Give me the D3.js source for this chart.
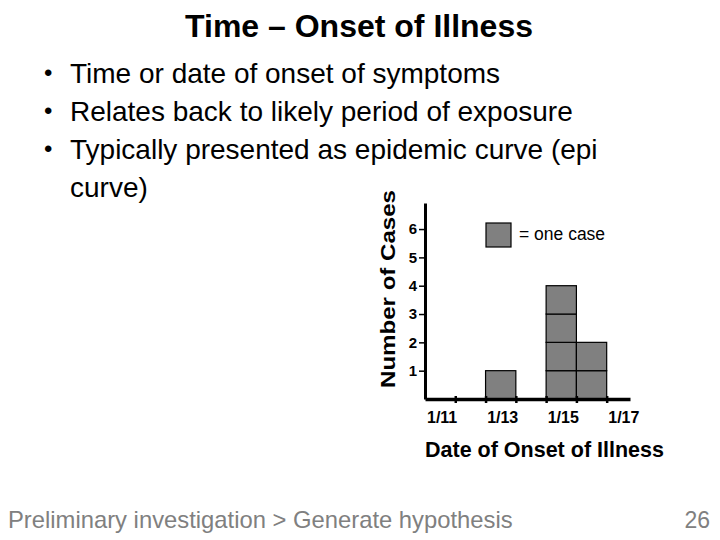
<!DOCTYPE html>
<html lang="en">
<head>
  <meta charset="utf-8">
  <title>Time – Onset of Illness</title>
  <script src="https://d3js.org/d3.v7.min.js"></script>
  <style>
    body { margin: 0; background: #fff; }
    svg { display: block; font-family: "Liberation Sans", Arial, sans-serif; }
  </style>
</head>
<body>
<div id="chart"></div>
<script>
  // epi curve data: day of January and number of cases
  const days = [11, 12, 13, 14, 15, 16, 17]
  const cases = [0, 0, 1, 0, 4, 2, 0]
  const xLabels = [{ day: 11, text: "1/11" }, { day: 13, text: "1/13" }, { day: 15, text: "1/15" }, { day: 17, text: "1/17" }]
  const yTicks = [1, 2, 3, 4, 5, 6]
  const bullets = ["Time or date of onset of symptoms", "Relates back to likely period of exposure", "Typically presented as epidemic curve (epi", "curve)"]

  const W = 720, H = 540
  const svg = d3.select("#chart").append("svg")
    .attr("width", W)
    .attr("height", H)

  // slide title
  svg.append("text")
    .attr("x", 359).attr("y", 37)
    .attr("text-anchor", "middle")
    .style("font-size", "32px").style("font-weight", "bold")
    .text("Time – Onset of Illness")

  // bullet list
  bullets.forEach(function (b, i) {
    const y = 83 + i * 38
    if (i < 3) {
      svg.append("text").attr("x", 44).attr("y", y - 2)
        .style("font-size", "24px").text("•")
    }
    svg.append("text").attr("x", 70).attr("y", y)
      .style("font-size", "28px")
      .text(b)
  })

  // scales
  const x = d3.scaleLinear().domain([11, 17.77]).range([425, 630])
  const y = d3.scaleLinear().domain([0, 6.92]).range([399, 203])

  // one box per case
  const boxes = []
  days.forEach(function (d, i) {
    for (let k = 0; k < cases[i]; k++) boxes.push({ day: d, k: k })
  })
  svg.append("g")
    .selectAll("rect")
    .data(boxes)
    .enter()
    .append("rect")
      .attr("x", d => x(d.day))
      .attr("y", d => y(d.k + 1))
      .attr("width", d => x(d.day + 1) - x(d.day))
      .attr("height", d => y(d.k) - y(d.k + 1))
      .style("fill", "#808080")
      .style("stroke", "#000")
      .style("stroke-width", 1.2)

  // y axis
  const yAxis = svg.append("g")
    .attr("transform", "translate(425,0)")
    .call(d3.axisLeft(y).tickValues(yTicks).tickFormat(d3.format("d")).tickSize(6).tickSizeOuter(0).tickPadding(2))
    .attr("font-size", 15)
    .attr("font-weight", "bold")
    .attr("font-family", "Liberation Sans, Arial, sans-serif")
  yAxis.select(".domain").attr("stroke-width", 3)
  yAxis.selectAll(".tick line").attr("stroke-width", 1.5)
  yAxis.selectAll(".tick text").attr("fill", "#000")

  // x axis
  const xAxis = svg.append("g")
    .attr("transform", "translate(0,399)")
    .call(d3.axisBottom(x).tickValues(days.slice(1)).tickSize(4).tickSizeOuter(0).tickFormat(""))
  xAxis.select(".domain").attr("stroke-width", 3.5)
  xAxis.selectAll(".tick line").attr("y1", -3).attr("y2", 4).attr("stroke-width", 2.5)

  svg.append("g")
    .selectAll("text")
    .data(xLabels)
    .enter()
    .append("text")
      .attr("x", d => x(d.day + 0.5) + 2)
      .attr("y", 423)
      .attr("text-anchor", "middle")
      .style("font-size", "16px").style("font-weight", "bold")
      .text(d => d.text)

  // axis titles
  svg.append("text")
    .attr("x", 425).attr("y", 457)
    .style("font-size", "21.5px").style("font-weight", "bold")
    .text("Date of Onset of Illness")

  svg.append("text")
    .attr("transform", "translate(395,289) rotate(-90)")
    .attr("text-anchor", "middle")
    .attr("textLength", 198).attr("lengthAdjust", "spacingAndGlyphs")
    .style("font-size", "20px").style("font-weight", "bold")
    .text("Number of Cases")

  // legend
  svg.append("rect")
    .attr("x", 486).attr("y", 223).attr("width", 25).attr("height", 24)
    .style("fill", "#808080").style("stroke", "#000").style("stroke-width", 1.2)
  svg.append("text")
    .attr("x", 519).attr("y", 240)
    .style("font-size", "17.5px")
    .text("= one case")

  // footer
  svg.append("text")
    .attr("x", 8).attr("y", 528)
    .style("font-size", "23.8px").attr("fill", "#808080")
    .text("Preliminary investigation > Generate hypothesis")
  svg.append("text")
    .attr("x", 710).attr("y", 528)
    .attr("text-anchor", "end")
    .style("font-size", "23px").attr("fill", "#808080")
    .text("26")
</script>
</body>
</html>
